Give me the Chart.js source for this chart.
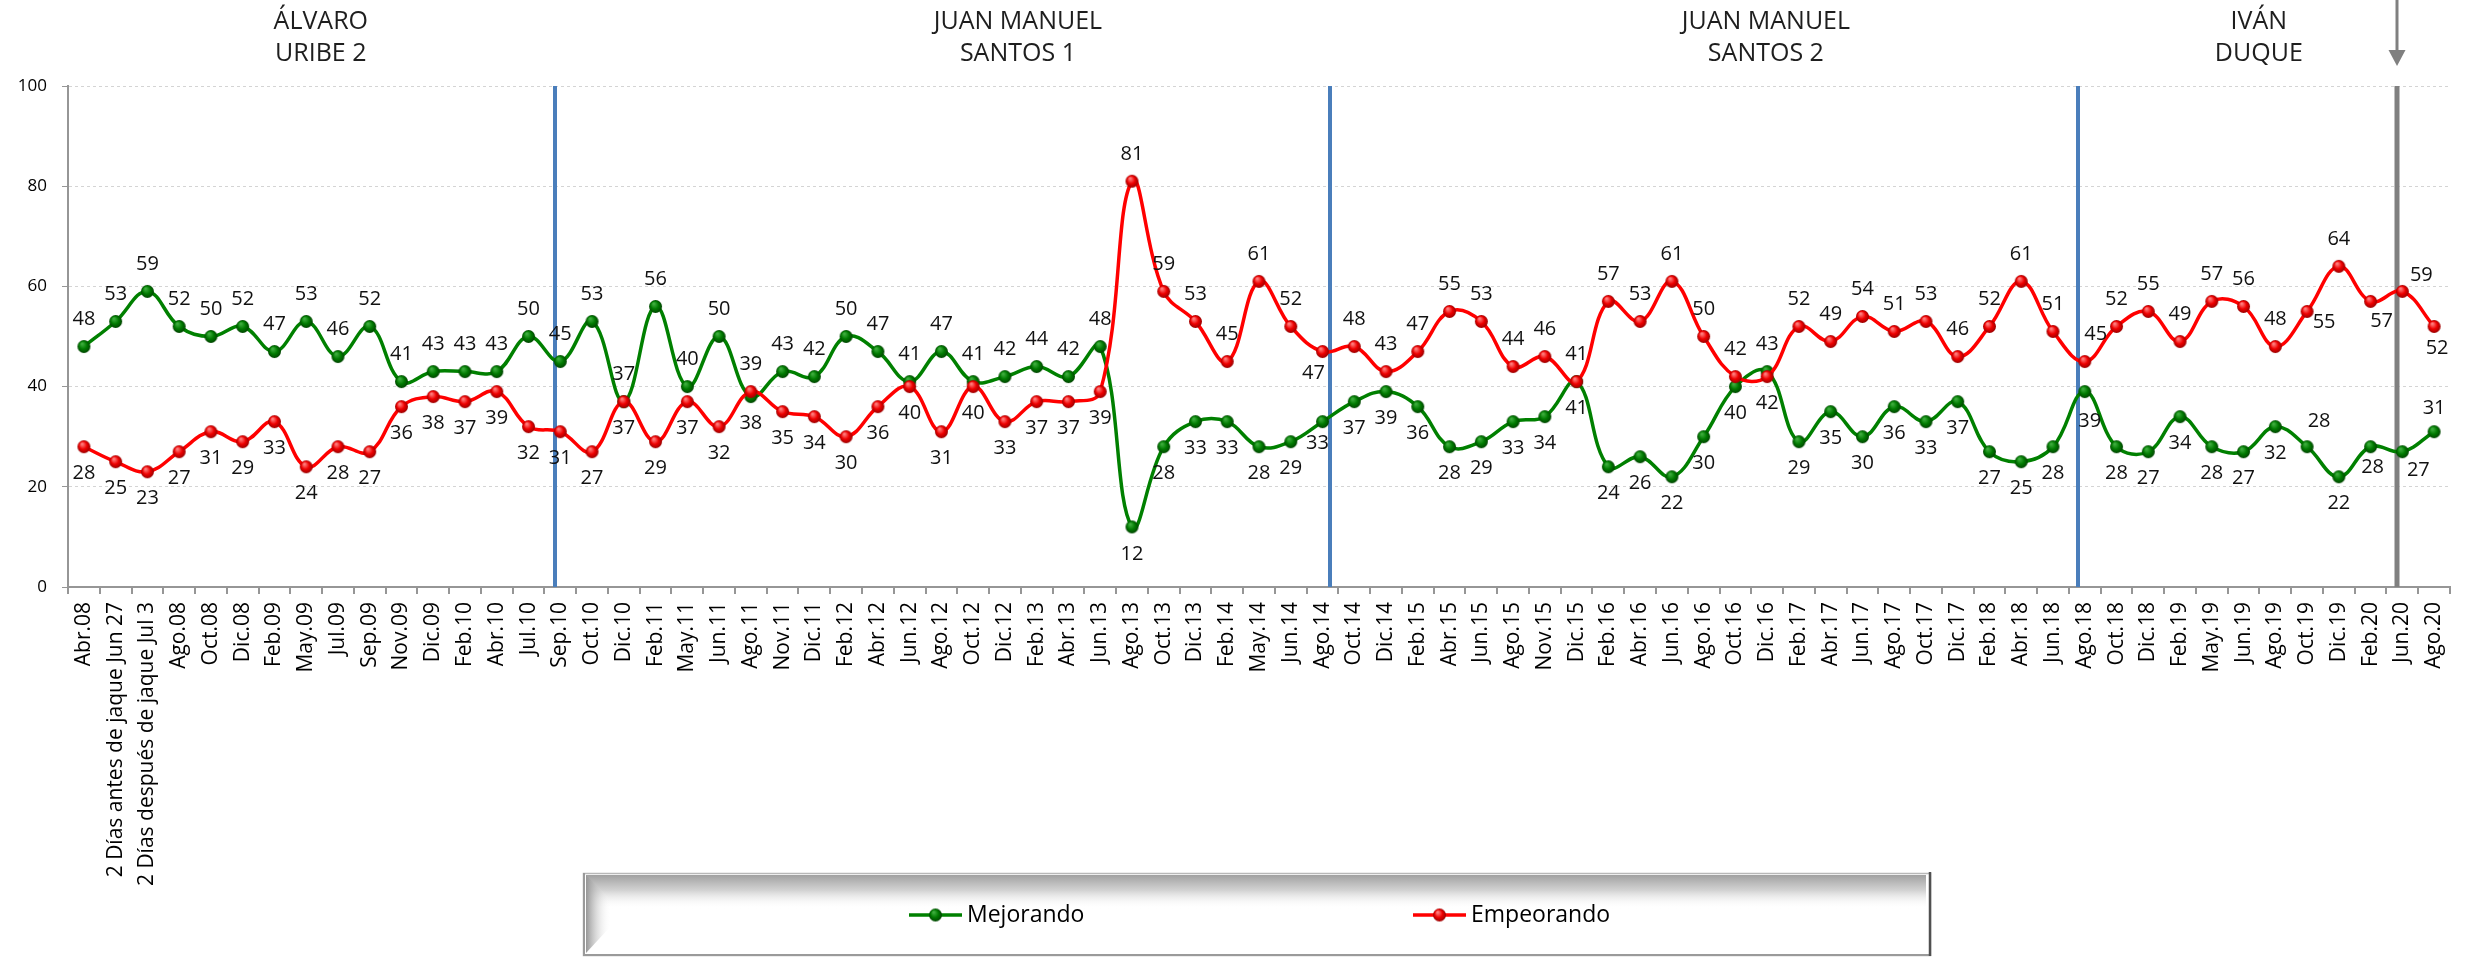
<!DOCTYPE html>
<html>
<head>
<meta charset="utf-8">
<script src="https://cdn.jsdelivr.net/npm/chart.js@4.4.0/dist/chart.umd.min.js"></script>
<style>
html,body{margin:0;padding:0;background:#fff;overflow:hidden}
#wrap{width:2468px;height:958px;position:relative}
</style>
</head>
<body>
<div id="wrap"><canvas id="c" width="2468" height="958"></canvas></div>
<script>
// ---------------- DATA ----------------
const categories = [
  'Abr.08','2 Días antes de jaque Jun 27','2 Días después de jaque Jul 3','Ago.08','Oct.08','Dic.08',
  'Feb.09','May.09','Jul.09','Sep.09','Nov.09','Dic.09','Feb.10','Abr.10','Jul.10',
  'Sep.10','Oct.10','Dic.10','Feb.11','May.11','Jun.11','Ago.11','Nov.11','Dic.11',
  'Feb.12','Abr.12','Jun.12','Ago.12','Oct.12','Dic.12','Feb.13','Abr.13','Jun.13',
  'Ago.13','Oct.13','Dic.13','Feb.14','May.14','Jun.14','Ago.14','Oct.14','Dic.14',
  'Feb.15','Abr.15','Jun.15','Ago.15','Nov.15','Dic.15','Feb.16','Abr.16','Jun.16',
  'Ago.16','Oct.16','Dic.16','Feb.17','Abr.17','Jun.17','Ago.17','Oct.17','Dic.17',
  'Feb.18','Abr.18','Jun.18','Ago.18','Oct.18','Dic.18','Feb.19','May.19','Jun.19',
  'Ago.19','Oct.19','Dic.19','Feb.20','Jun.20','Ago.20'
];
const mejorando = [
  48,53,59,52,50,52,47,53,46,52,41,43,43,43,50,
  45,53,37,56,40,50,38,43,42,50,47,41,47,41,42,44,42,48,
  12,28,33,33,28,29,33,37,39,36,28,29,33,34,41,24,26,22,
  30,40,43,29,35,30,36,33,37,27,25,28,39,28,27,34,28,27,
  32,28,22,28,27,31
];
const empeorando = [
  28,25,23,27,31,29,33,24,28,27,36,38,37,39,32,
  31,27,37,29,37,32,39,35,34,30,36,40,31,40,33,37,37,39,
  81,59,53,45,61,52,47,48,43,47,55,53,44,46,41,57,53,61,
  50,42,42,52,49,54,51,53,46,52,61,51,45,52,55,49,57,56,
  48,55,64,57,59,52
];
const seriesNames = ['Mejorando','Empeorando'];
const yTickValues = [0,20,40,60,80,100];

// ---------------- ANNOTATIONS (positions in category units) ----------------
const periodTitles = [
  {lines:['ÁLVARO','URIBE 2'], at:7.46},
  {lines:['JUAN MANUEL','SANTOS 1'], at:29.41},
  {lines:['JUAN MANUEL','SANTOS 2'], at:52.96},
  {lines:['IVÁN','DUQUE'], at:68.48}
];
const dividers = [
  {at:14.82, color:'#4a7ebb', width:4},
  {at:39.23, color:'#4a7ebb', width:4},
  {at:62.80, color:'#4a7ebb', width:4},
  {at:72.82, color:'#808080', width:5, arrow:true}
];
// label placement tweaks (dx, dy from point centre)
const labelTweaks = {
  'Ago.14': {m:[-5,22], e:[-9,22]},
  'Ago.18': {m:[5,30], e:[11,-27]},
  'Oct.19': {m:[12,-25], e:[17,11]},
  'Feb.20': {m:[2,21], e:[11,20]},
  'Jun.20': {m:[16,19], e:[19,-16]},
  'Ago.20': {m:[0,-23], e:[3,22]}
};

const GREEN = '#008000', RED = '#ff0000';
const FONT = '"Open Sans", "DejaVu Sans", sans-serif';

function sphere(light, base, dark, r){
  const s = r*2+2, c = document.createElement('canvas');
  c.width = s; c.height = s;
  const g = c.getContext('2d'), cx = s/2, cy = s/2;
  const grad = g.createRadialGradient(cx - r*0.3, cy - r*0.45, r*0.1, cx, cy, r);
  grad.addColorStop(0, light);
  grad.addColorStop(0.55, base);
  grad.addColorStop(1, dark);
  g.fillStyle = grad;
  g.beginPath(); g.arc(cx, cy, r, 0, Math.PI*2); g.fill();
  return c;
}
const greenBall = sphere('#3fae3f', '#007a00', '#004400', 6.5);
const redBall = sphere('#ff8080', '#ee0000', '#990000', 6.5);

function idxToPx(scale, at){
  const x0 = scale.getPixelForValue(0), x1 = scale.getPixelForValue(1);
  return x0 + at*(x1-x0);
}

const annotationsPlugin = {
  id:'annotations',
  beforeDatasetsDraw(chart){
    const {ctx, chartArea, scales:{x}} = chart;
    ctx.save();
    dividers.forEach(d=>{
      const px = Math.round(idxToPx(x, d.at));
      ctx.strokeStyle = d.color; ctx.lineWidth = d.width;
      ctx.beginPath(); ctx.moveTo(px, chartArea.top); ctx.lineTo(px, chartArea.bottom); ctx.stroke();
      if (d.arrow){
        ctx.lineWidth = 3;
        ctx.beginPath(); ctx.moveTo(px, 0); ctx.lineTo(px, 52); ctx.stroke();
        ctx.fillStyle = d.color;
        ctx.beginPath(); ctx.moveTo(px-8.5, 50); ctx.lineTo(px+8.5, 50); ctx.lineTo(px, 66); ctx.closePath(); ctx.fill();
      }
    });
    ctx.fillStyle = '#1e1e1e';
    ctx.font = '25px ' + FONT;
    ctx.textAlign = 'center'; ctx.textBaseline = 'middle';
    periodTitles.forEach(t=>{
      const px = idxToPx(x, t.at);
      t.lines.forEach((ln, i)=> ctx.fillText(ln, px, 22 + i*32));
    });
    ctx.restore();
  }
};

const valueLabelsPlugin = {
  id:'valueLabels',
  afterDatasetsDraw(chart){
    const ctx = chart.ctx;
    const mm = chart.getDatasetMeta(0), me = chart.getDatasetMeta(1);
    ctx.save();
    ctx.font = '20px ' + FONT;
    ctx.fillStyle = '#111';
    ctx.textAlign = 'center'; ctx.textBaseline = 'middle';
    const OFF = 27;
    categories.forEach((cat, i)=>{
      const a = mejorando[i], b = empeorando[i];
      let greenUp = a > b || (a === b && i > 0 && mejorando[i-1] > empeorando[i-1]);
      const pm = mm.data[i], pe = me.data[i];
      let dm = [0, greenUp ? -OFF : OFF], de = [0, greenUp ? OFF : -OFF];
      if (labelTweaks[cat]) { dm = labelTweaks[cat].m; de = labelTweaks[cat].e; }
      ctx.fillText(String(a), pm.x + dm[0], pm.y + dm[1]);
      ctx.fillText(String(b), pe.x + de[0], pe.y + de[1]);
    });
    ctx.restore();
  }
};

const legendBoxPlugin = {
  id:'legendBox',
  afterDraw(chart){
    const ctx = chart.ctx;
    const L = 583, T = 873, R = 1931, B = 956;
    ctx.save();
    ctx.fillStyle = '#ffffff';
    ctx.fillRect(L, T, R-L, B-T);
    let g = ctx.createLinearGradient(0, T+2, 0, T+36);
    g.addColorStop(0, 'rgba(160,160,160,1)');
    g.addColorStop(0.45, 'rgba(205,205,205,0.9)');
    g.addColorStop(1, 'rgba(255,255,255,0)');
    ctx.fillStyle = g;
    ctx.fillRect(L+3, T+2, R-L-8, 34);
    g = ctx.createLinearGradient(L+3, 0, L+28, 0);
    g.addColorStop(0, 'rgba(150,150,150,1)');
    g.addColorStop(1, 'rgba(255,255,255,0)');
    ctx.fillStyle = g;
    ctx.beginPath(); ctx.moveTo(L+3, T+2); ctx.lineTo(L+28, T+27); ctx.lineTo(L+28, B-30); ctx.lineTo(L+3, B-3); ctx.closePath(); ctx.fill();
    ctx.strokeStyle = '#b8b8b8'; ctx.lineWidth = 1.5;
    ctx.strokeRect(L+0.5, T+0.5, R-L-1, B-T-1);
    ctx.strokeStyle = '#9a9a9a'; ctx.lineWidth = 2;
    ctx.beginPath(); ctx.moveTo(L, B-1); ctx.lineTo(R, B-1); ctx.stroke();
    ctx.beginPath(); ctx.moveTo(L+1, T); ctx.lineTo(L+1, B); ctx.stroke();
    ctx.strokeStyle = '#505050'; ctx.lineWidth = 2.5;
    ctx.beginPath(); ctx.moveTo(R-1, T-1); ctx.lineTo(R-1, B); ctx.stroke();

    const items = [
      {ds:0, x:909, ball:greenBall},
      {ds:1, x:1413, ball:redBall}
    ];
    const cy = 915;
    ctx.font = '23px ' + FONT;
    ctx.textAlign = 'left'; ctx.textBaseline = 'middle';
    items.forEach(it=>{
      const d = chart.data.datasets[it.ds];
      ctx.strokeStyle = d.borderColor; ctx.lineWidth = 3.5;
      ctx.beginPath(); ctx.moveTo(it.x, cy); ctx.lineTo(it.x+53, cy); ctx.stroke();
      ctx.drawImage(it.ball, it.x+26.5-it.ball.width/2, cy-it.ball.height/2);
      ctx.fillStyle = '#000';
      ctx.fillText(d.label, it.x+58, cy);
    });
    ctx.restore();
  }
};

const AXIS_GRAY = '#969696';

new Chart(document.getElementById('c'), {
  type:'line',
  data:{
    labels: categories,
    datasets:[
      {label:seriesNames[0], data:mejorando, borderColor:GREEN, backgroundColor:GREEN, borderWidth:3.5,
       tension:0.4, pointStyle:greenBall, pointRadius:6.5, order:1, fill:false},
      {label:seriesNames[1], data:empeorando, borderColor:RED, backgroundColor:RED, borderWidth:3.5,
       tension:0.4, pointStyle:redBall, pointRadius:6.5, order:0, fill:false}
    ]
  },
  options:{
    responsive:false,
    animation:false,
    devicePixelRatio:1,
    layout:{padding:{top:86, right:18, left:0, bottom:0}},
    plugins:{legend:{display:false}, tooltip:{enabled:false}, title:{display:false}},
    scales:{
      x:{
        type:'category', offset:true,
        grid:{offset:true, drawOnChartArea:false, drawTicks:true, tickLength:7, color:AXIS_GRAY, tickColor:AXIS_GRAY, lineWidth:2},
        border:{display:true, color:AXIS_GRAY, width:2},
        ticks:{autoSkip:false, minRotation:90, maxRotation:90, padding:8, color:'#000', font:{family:FONT, size:21}},
        afterFit(s){ s.height = 958 - 587; }
      },
      y:{
        min:0, max:100,
        afterBuildTicks(s){ s.ticks = yTickValues.map(v=>({value:v})); },
        grid:{color:'#d4d4d4', lineWidth:1, tickColor:AXIS_GRAY, tickLength:6, drawTicks:true},
        border:{display:true, color:AXIS_GRAY, width:2, dash:[3,3]},
        ticks:{padding:15, color:'#000', font:{family:FONT, size:17}},
        afterFit(s){ s.width = 68; }
      }
    }
  },
  plugins:[annotationsPlugin, valueLabelsPlugin, legendBoxPlugin]
});
</script>
</body>
</html>
